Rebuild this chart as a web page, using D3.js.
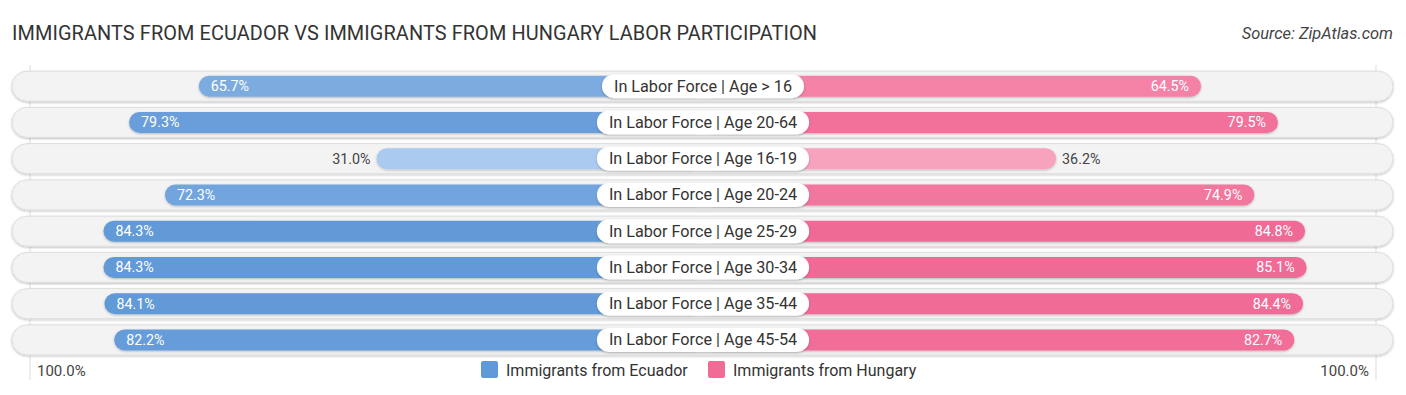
<!DOCTYPE html>
<html>
<head>
<meta charset="utf-8">
<script src="https://cdn.jsdelivr.net/npm/d3@7"></script>
<style>
  body { margin: 0; background: #fff; }
  text { font-family: Roboto, "Open Sans", sans-serif; }
</style>
</head>
<body>
<div id="chart"></div>
<script>
// data
var categories = [
  "In Labor Force | Age > 16",
  "In Labor Force | Age 20-64",
  "In Labor Force | Age 16-19",
  "In Labor Force | Age 20-24",
  "In Labor Force | Age 25-29",
  "In Labor Force | Age 30-34",
  "In Labor Force | Age 35-44",
  "In Labor Force | Age 45-54"
];
var ecuador = [65.7, 79.3, 31.0, 72.3, 84.3, 84.3, 84.1, 82.2];
var hungary = [64.5, 79.5, 36.2, 74.9, 84.8, 85.1, 84.4, 82.7];
var seriesNames = ["Immigrants from Ecuador", "Immigrants from Hungary"];
var axisLabels = ["100.0%", "100.0%"];

var svgWidth = 1406;
var svgHeight = 395;
var cx = 703;

var svg = d3.select("#chart")
  .append("svg")
  .attr("width", svgWidth)
  .attr("height", svgHeight);

// title + source
svg.append("text")
  .attr("x", 12)
  .attr("y", 40)
  .attr("font-size", 19.9)
  .attr("fill", "#333")
  .attr("letter-spacing", 0.1)
  .text("IMMIGRANTS FROM ECUADOR VS IMMIGRANTS FROM HUNGARY LABOR PARTICIPATION");

svg.append("text")
  .attr("x", 1393)
  .attr("y", 39)
  .attr("text-anchor", "end")
  .attr("font-size", 16.4)
  .attr("font-style", "italic")
  .attr("fill", "#444")
  .text("Source: ZipAtlas.com");

// scales
var y = d3.scaleBand()
  .domain(categories)
  .range([68, 358])
  .paddingInner(0);

// bar length measured from centre: offset under the label + value part
var len = d3.scaleLinear().domain([0, 100]).range([167.6, 680]);

var blueCol = d3.scaleLinear().domain([30, 85]).range(["#abcbef", "#6199d8"]);
var pinkCol = d3.scaleLinear().domain([30, 85]).range(["#f8aac2", "#f06b96"]);

// gridlines at 100%
svg.append("line")
  .attr("x1", 30).attr("x2", 30)
  .attr("y1", 65).attr("y2", 380)
  .attr("stroke", "#ddd").attr("stroke-width", 1);
svg.append("line")
  .attr("x1", 1376).attr("x2", 1376)
  .attr("y1", 65).attr("y2", 380)
  .attr("stroke", "#ddd").attr("stroke-width", 1);

var defs = svg.append("defs");
var shadow = defs.append("filter").attr("id", "sh")
  .attr("x", "-5%").attr("y", "-30%").attr("width", "110%").attr("height", "170%");
shadow.append("feDropShadow")
  .attr("dx", 0).attr("dy", 1).attr("stdDeviation", 1)
  .attr("flood-color", "#000").attr("flood-opacity", 0.25);

var rows = svg.selectAll("g.row")
  .data(categories)
  .enter()
  .append("g")
  .attr("class", "row")
  .attr("transform", d => `translate(0, ${y(d) + y.bandwidth() / 2})`);

// row background
rows.append("rect")
  .attr("x", 12)
  .attr("y", -15)
  .attr("width", 1381)
  .attr("height", 30)
  .attr("rx", 15)
  .attr("fill", "#f3f3f3")
  .attr("stroke", "#dedede")
  .attr("stroke-width", 1)
  .attr("filter", "url(#sh)");

// left bars
rows.append("rect")
  .attr("x", (d, i) => cx - len(ecuador[i]))
  .attr("y", -10.5)
  .attr("width", (d, i) => len(ecuador[i]))
  .attr("height", 21)
  .attr("rx", 10.5)
  .attr("fill", (d, i) => blueCol(ecuador[i]))
  .attr("filter", "url(#sh)");

// right bars
rows.append("rect")
  .attr("x", cx)
  .attr("y", -10.5)
  .attr("width", (d, i) => len(hungary[i]))
  .attr("height", 21)
  .attr("rx", 10.5)
  .attr("fill", (d, i) => pinkCol(hungary[i]))
  .attr("filter", "url(#sh)");

// value labels
rows.append("text")
  .attr("x", (d, i) => ecuador[i] > 50 ? cx - len(ecuador[i]) + 12 : cx - len(ecuador[i]) - 6)
  .attr("y", 5)
  .attr("text-anchor", (d, i) => ecuador[i] > 50 ? "start" : "end")
  .attr("font-size", 14.3)
  .attr("fill", (d, i) => ecuador[i] > 50 ? "#fff" : "#444")
  .text((d, i) => ecuador[i].toFixed(1) + "%");

rows.append("text")
  .attr("x", (d, i) => hungary[i] > 50 ? cx + len(hungary[i]) - 12 : cx + len(hungary[i]) + 6)
  .attr("y", 5)
  .attr("text-anchor", (d, i) => hungary[i] > 50 ? "end" : "start")
  .attr("font-size", 14.3)
  .attr("fill", (d, i) => hungary[i] > 50 ? "#fff" : "#444")
  .text((d, i) => hungary[i].toFixed(1) + "%");

// centre label pills
rows.each(function(d) {
  var g = d3.select(this);
  var pill = g.append("rect");
  var t = g.append("text")
    .attr("x", cx)
    .attr("y", 5.5)
    .attr("text-anchor", "middle")
    .attr("font-size", 16.2)
    .attr("fill", "#333")
    .text(d);
  var w = t.node().getComputedTextLength() + 24;
  pill.attr("x", cx - w / 2)
    .attr("y", -12)
    .attr("width", w)
    .attr("height", 24)
    .attr("rx", 12)
    .attr("fill", "#fff")
    .attr("filter", "url(#sh)");
});

// bottom axis labels
svg.append("text")
  .attr("x", 37).attr("y", 376)
  .attr("font-size", 15).attr("fill", "#444")
  .text(axisLabels[0]);
svg.append("text")
  .attr("x", 1369).attr("y", 376)
  .attr("text-anchor", "end")
  .attr("font-size", 15).attr("fill", "#444")
  .text(axisLabels[1]);

// legend
var legendX = [481, 708];
var legendCol = ["#6199d8", "#f06b96"];
var legend = svg.selectAll("g.legend")
  .data(seriesNames)
  .enter()
  .append("g")
  .attr("class", "legend")
  .attr("transform", (d, i) => `translate(${legendX[i]}, 361)`);

legend.append("rect")
  .attr("width", 17).attr("height", 17)
  .attr("rx", 2)
  .attr("fill", (d, i) => legendCol[i]);

legend.append("text")
  .attr("x", 25).attr("y", 14.5)
  .attr("font-size", 16)
  .attr("fill", "#333")
  .text(d => d);
</script>
</body>
</html>
